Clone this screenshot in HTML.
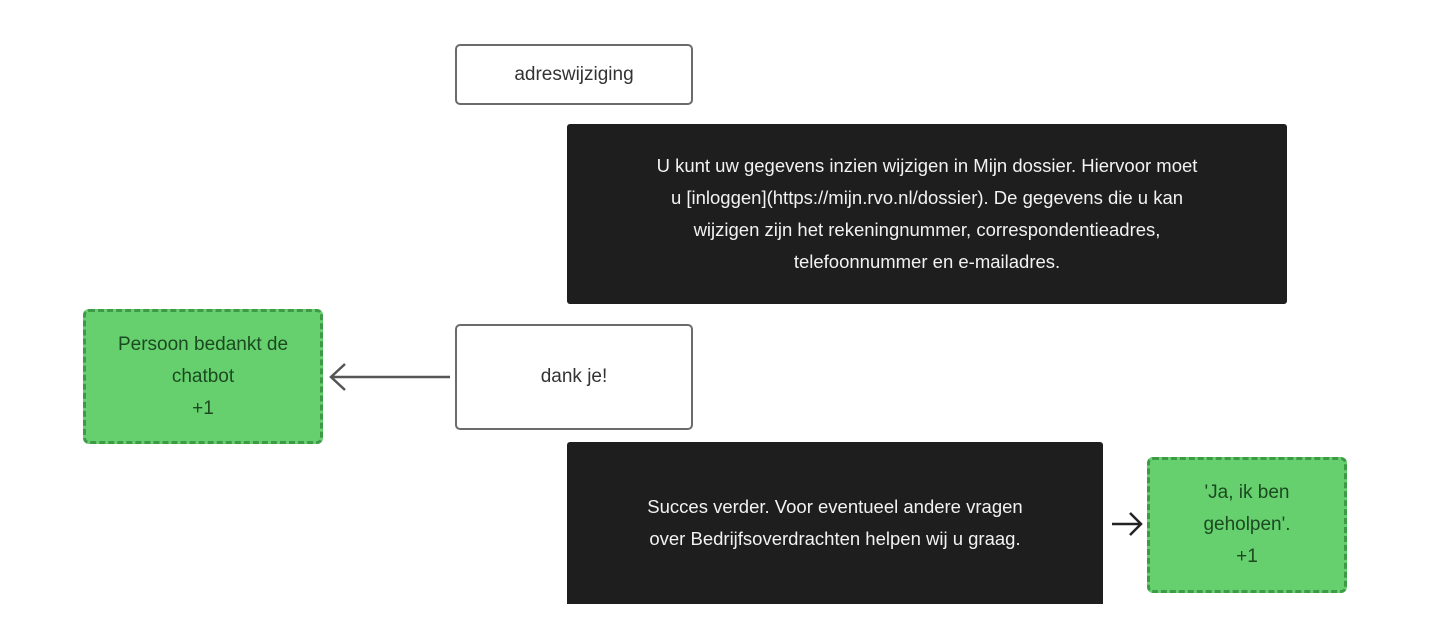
<!DOCTYPE html>
<html><head><meta charset="utf-8"><style>
body{margin:0;width:1440px;height:625px;background:#fff;position:relative;overflow:hidden;font-family:"Liberation Sans",sans-serif;}
.b{position:absolute;box-sizing:border-box;display:flex;align-items:center;justify-content:center;text-align:center;}
.w{border:2px solid #6b6b6b;border-radius:5px;background:#fff;color:#333;font-size:19px;}
.k{background:#1e1e1e;color:#f2f2f2;font-size:18.5px;line-height:32px;border-radius:3px;}
.g{background:#66d06f;border:3px dashed #3f9a48;border-radius:6px;color:#1c4a20;font-size:19px;line-height:32px;}
</style></head><body>
<div class="b w" style="left:455px;top:44px;width:238px;height:61px;">adreswijziging</div>
<div class="b k" style="left:567px;top:124px;width:720px;height:180px;">U kunt uw gegevens inzien wijzigen in Mijn dossier. Hiervoor moet<br>u [inloggen](https://mijn.rvo.nl/dossier). De gegevens die u kan<br>wijzigen zijn het rekeningnummer, correspondentieadres,<br>telefoonnummer en e-mailadres.</div>
<div class="b g" style="left:83px;top:309px;width:240px;height:135px;">Persoon bedankt de<br>chatbot<br>+1</div>
<div class="b w" style="left:455px;top:324px;width:238px;height:106px;">dank je!</div>
<div class="b k" style="left:567px;top:442px;width:536px;height:162px;border-radius:3px 3px 0 0;">Succes verder. Voor eventueel andere vragen<br>over Bedrijfsoverdrachten helpen wij u graag.</div>
<div class="b g" style="left:1147px;top:457px;width:200px;height:136px;">'Ja, ik ben<br>geholpen'.<br>+1</div>
<svg style="position:absolute;left:0;top:0" width="1440" height="625">
<g fill="none" stroke="#555" stroke-width="2.5">
<path d="M450 377 H332 M345 364 L331 377 L345 390"/>
</g>
<g fill="none" stroke="#222" stroke-width="2.5">
<path d="M1112 524 H1140 M1130 513 L1141 524 L1130 535"/>
</g>
</svg>
</body></html>
